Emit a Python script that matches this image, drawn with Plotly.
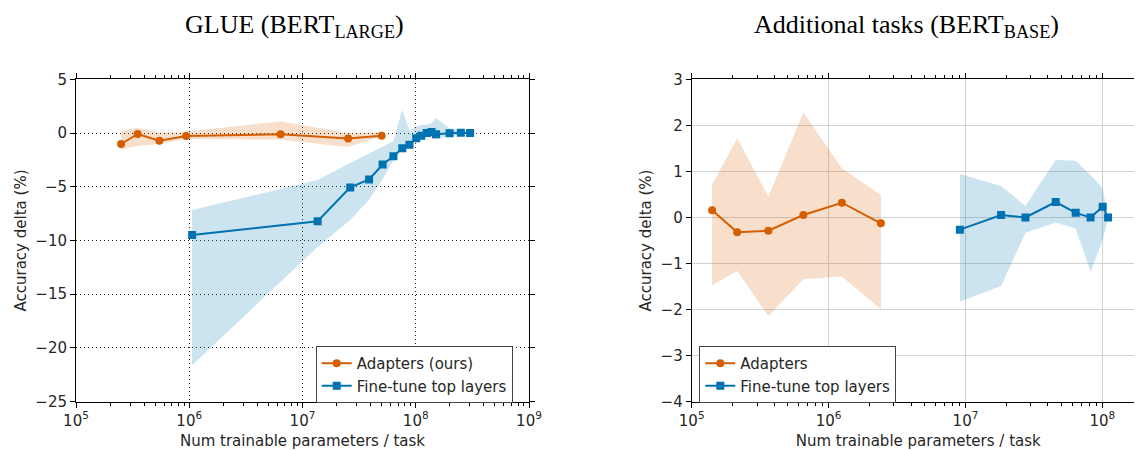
import plotly.graph_objects as go

# ---------------- data ----------------
# Left: GLUE (BERT_LARGE)
glue_adapt_x = [2.5e5, 3.5e5, 5.45e5, 9.4e5, 6.4e6, 2.53e7, 5.0e7]
glue_adapt_y = [-1.02, -0.09, -0.71, -0.28, -0.12, -0.52, -0.25]
glue_adapt_hi = [0.2, 0.49, 0.05, 0.12, 1.08, 0.0, 0.1]
glue_adapt_lo = [-1.56, -1.2, -1.0, -0.56, -0.62, -1.3, -0.3]

glue_ft_x = [1.06e6, 1.36e7, 2.64e7, 3.87e7, 5.1e7, 6.35e7, 7.6e7, 8.8e7,
             1.01e8, 1.12e8, 1.25e8, 1.38e8, 1.51e8, 1.99e8, 2.5e8, 3.02e8]
glue_ft_y = [-9.48, -8.21, -5.06, -4.32, -2.93, -2.16, -1.42, -1.08,
             -0.49, -0.25, 0.0, 0.09, -0.12, -0.03, 0.03, 0.0]
glue_ft_hi = [-7.16, -4.38, -2.78, -1.9, -1.3, -0.77, 2.16, 0.2,
              0.6, 0.77, 0.77, 0.9, 1.39, 0.46, 0.25, 0.05]
glue_ft_lo = [-21.6, -10.6, -8.1, -6.2, -4.3, -2.5, -1.4, -1.1,
              -0.6, -0.46, -0.3, -0.45, -0.6, -0.25, -0.15, -0.05]

# Right: Additional tasks (BERT_BASE)
add_adapt_x = [1.41e5, 2.15e5, 3.63e5, 6.54e5, 1.25e6, 2.41e6]
add_adapt_y = [0.155, -0.323, -0.287, 0.054, 0.32, -0.127]
add_adapt_hi = [0.71, 1.72, 0.45, 2.28, 1.07, 0.49]
add_adapt_lo = [-1.47, -1.16, -2.14, -1.34, -1.28, -1.99]

add_ft_x = [9.1e6, 1.82e7, 2.74e7, 4.56e7, 6.38e7, 8.2e7, 1.005e8, 1.1e8]
add_ft_y = [-0.265, 0.054, 0.0, 0.336, 0.1, 0.0, 0.235, 0.0]
add_ft_hi = [0.945, 0.684, 0.25, 1.25, 1.23, 0.92, 0.63, 0.02]
add_ft_lo = [-1.83, -1.49, -0.33, -0.11, -0.24, -1.18, -0.49, -0.02]

left_yticks = [5, 0, -5, -10, -15, -20, -25]
left_yticklabels = ["5", "0", "\u22125", "\u221210", "\u221215", "\u221220", "\u221225"]
right_yticks = [3, 2, 1, 0, -1, -2, -3, -4]
right_yticklabels = ["3", "2", "1", "0", "\u22121", "\u22122", "\u22123", "\u22124"]
left_xticks = [1e5, 1e6, 1e7, 1e8, 1e9]
left_xticklabels = ["10<sup>5</sup>", "10<sup>6</sup>", "10<sup>7</sup>", "10<sup>8</sup>", "10<sup>9</sup>"]
right_xticks = [1e5, 1e6, 1e7, 1e8]
right_xticklabels = ["10<sup>5</sup>", "10<sup>6</sup>", "10<sup>7</sup>", "10<sup>8</sup>"]

ORANGE = "#D55E00"
BLUE = "#0072B2"
ORANGE_F = "rgba(213,94,0,0.2)"
BLUE_F = "rgba(0,114,178,0.2)"
TXT = "#262626"
FONT = "DejaVu Sans"

fig = go.Figure()


def band(x, lo, hi, color, xa, ya):
    fig.add_trace(go.Scatter(x=list(x) + list(x)[::-1], y=list(hi) + list(lo)[::-1],
                             fill="toself", fillcolor=color, line=dict(width=0),
                             mode="lines", showlegend=False, hoverinfo="skip",
                             xaxis=xa, yaxis=ya))


band(glue_adapt_x, glue_adapt_lo, glue_adapt_hi, ORANGE_F, "x", "y")
band(glue_ft_x, glue_ft_lo, glue_ft_hi, BLUE_F, "x", "y")
band(add_adapt_x, add_adapt_lo, add_adapt_hi, ORANGE_F, "x2", "y2")
band(add_ft_x, add_ft_lo, add_ft_hi, BLUE_F, "x2", "y2")

fig.add_trace(go.Scatter(x=glue_adapt_x, y=glue_adapt_y, mode="lines+markers",
                         name="Adapters (ours)", line=dict(color=ORANGE, width=2),
                         marker=dict(symbol="circle", size=8, color=ORANGE),
                         xaxis="x", yaxis="y", legend="legend"))
fig.add_trace(go.Scatter(x=glue_ft_x, y=glue_ft_y, mode="lines+markers",
                         name="Fine-tune top layers", line=dict(color=BLUE, width=2),
                         marker=dict(symbol="square", size=8, color=BLUE),
                         xaxis="x", yaxis="y", legend="legend"))
fig.add_trace(go.Scatter(x=add_adapt_x, y=add_adapt_y, mode="lines+markers",
                         name="Adapters", line=dict(color=ORANGE, width=2),
                         marker=dict(symbol="circle", size=8, color=ORANGE),
                         xaxis="x2", yaxis="y2", legend="legend2"))
fig.add_trace(go.Scatter(x=add_ft_x, y=add_ft_y, mode="lines+markers",
                         name="Fine-tune top layers", line=dict(color=BLUE, width=2),
                         marker=dict(symbol="square", size=8, color=BLUE),
                         xaxis="x2", yaxis="y2", legend="legend2"))

W, H = 1142, 450
OFF = 8  # page body margin


def minor_vals(lo_exp, hi_exp):
    return [m * 10 ** e for e in range(lo_exp, hi_exp) for m in range(2, 10)]


tickfont = dict(family=FONT, size=15, color=TXT)
common_x = dict(type="log", showline=True, linecolor="black", linewidth=1,
                ticks="outside", ticklen=5, tickcolor="black", tickfont=tickfont,
                zeroline=False, mirror="ticks", automargin=False)
common_y = dict(showline=True, linecolor="black", linewidth=1,
                ticks="outside", ticklen=5, tickcolor="black", tickfont=tickfont,
                zeroline=False, automargin=False, mirror="ticks")

yb, yt = 1 - (401.7 - OFF) / H, 1 - (79.3 - OFF) / H
lx0, lx1 = (76 - OFF) / W, (529 - OFF) / W
rx0, rx1 = (691.7 - OFF) / W, (691.7 + 453 - OFF) / W

fig.update_layout(
    width=W, height=H, margin=dict(l=0, r=0, t=0, b=0, autoexpand=False),
    plot_bgcolor="white", paper_bgcolor="white",
    font=dict(family=FONT, color=TXT),
    xaxis=dict(**common_x, domain=[lx0, lx1], range=[5, 9],
               tickvals=left_xticks, ticktext=left_xticklabels,
               minor=dict(ticks="outside", ticklen=3, tickcolor="black",
                          tickvals=minor_vals(5, 9), showgrid=False),
               showgrid=True, gridcolor="#222", gridwidth=1, griddash="1px,3px",
               title=dict(text="Num trainable parameters / task",
                          font=dict(family=FONT, size=15, color=TXT), standoff=6),
               anchor="y"),
    yaxis=dict(**common_y, domain=[yb, yt], range=[-25, 5],
               tickvals=left_yticks, ticktext=left_yticklabels,
               showgrid=True, gridcolor="#222", gridwidth=1, griddash="1px,3px",
               title=dict(text="Accuracy delta (%)",
                          font=dict(family=FONT, size=15, color=TXT), standoff=5),
               anchor="x"),
    # overlay axes: inner half of the crossing major ticks on the left panel
    xaxis3=dict(type="log", overlaying="x", domain=[lx0, lx1], range=[5, 9], anchor="y3",
                tickvals=left_xticks, ticks="inside", ticklen=4, tickcolor="black",
                showticklabels=False, showgrid=False, zeroline=False,
                showline=True, linecolor="black", mirror="ticks", automargin=False),
    yaxis3=dict(overlaying="y", domain=[yb, yt], range=[-25, 5], anchor="x3",
                tickvals=left_yticks, ticks="inside", ticklen=4, tickcolor="black",
                showticklabels=False, showgrid=False, zeroline=False,
                showline=True, linecolor="black", mirror="ticks", automargin=False),
    xaxis2=dict(**common_x, domain=[rx0, rx1], range=[5, 5 + 453 / 136.9],
                tickvals=right_xticks, ticktext=right_xticklabels,
                minor=dict(ticks="outside", ticklen=3, tickcolor="black",
                           tickvals=minor_vals(5, 9), showgrid=False),
                showgrid=True, gridcolor="#d2d2d2", gridwidth=1.3,
                title=dict(text="Num trainable parameters / task",
                           font=dict(family=FONT, size=15, color=TXT), standoff=6),
                anchor="y2"),
    yaxis2=dict(**common_y, domain=[yb, yt], range=[-4, 3],
                tickvals=right_yticks, ticktext=right_yticklabels,
                showgrid=True, gridcolor="#d2d2d2", gridwidth=1.3,
                title=dict(text="Accuracy delta (%)",
                           font=dict(family=FONT, size=15, color=TXT), standoff=5),
                anchor="x2"),
    legend=dict(x=(315.7 - OFF) / W, y=1 - (346 - OFF) / H, xanchor="left", yanchor="top",
                bgcolor="white", bordercolor="#444", borderwidth=1,
                font=dict(family=FONT, size=15, color=TXT), tracegroupgap=0),
    legend2=dict(x=(699.3 - OFF) / W, y=1 - (346 - OFF) / H, xanchor="left", yanchor="top",
                 bgcolor="white", bordercolor="#444", borderwidth=1,
                 font=dict(family=FONT, size=15, color=TXT), tracegroupgap=0),
    annotations=[
        dict(text="GLUE (BERT<sub>LARGE</sub>)", x=(294 - OFF) / W, y=1.0,
             xref="paper", yref="paper", showarrow=False, xanchor="center", yanchor="top",
             font=dict(family="Liberation Serif", size=26, color="black")),
        dict(text="Additional tasks (BERT<sub>BASE</sub>)", x=(906 - OFF) / W, y=1.0,
             xref="paper", yref="paper", showarrow=False, xanchor="center", yanchor="top",
             font=dict(family="Liberation Serif", size=26, color="black")),
    ],
)

fig.write_html("out.html")
